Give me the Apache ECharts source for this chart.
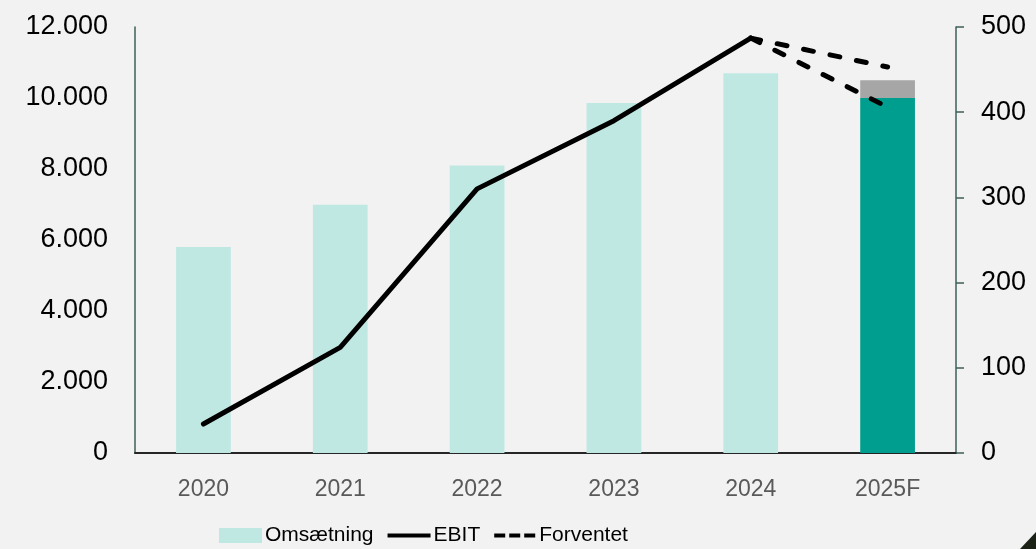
<!DOCTYPE html>
<html>
<head>
<meta charset="utf-8">
<script src="https://cdn.jsdelivr.net/npm/echarts@6/dist/echarts.min.js"></script>
<style>html,body{margin:0;padding:0;background:#f2f2f2;}#c{width:1036px;height:549px;}</style>
</head>
<body>
<div id="c"></div>
<script>
const categories = ['2020', '2021', '2022', '2023', '2024', '2025F'];
const omsaetning = [5800, 6990, 8100, 9860, 10700, 0];
const omsaetningForecast = [0, 0, 0, 0, 0, 10000];
const omsaetningRange = [0, 0, 0, 0, 0, 500];
const ebit = [34, 124, 310, 390, 487, null];
const forventetHigh = [null, null, null, null, 487, 453];
const forventetLow = [null, null, null, null, 487, 406];
const leftTicks = { min: 0, max: 12000, interval: 2000 };
const rightTicks = { min: 0, max: 500, interval: 100 };

const chart = echarts.init(document.getElementById('c'));
const fmt = v => String(v).replace(/\B(?=(\d{3})+(?!\d))/g, '.');
const axisCol = '#3f5f5a';
const dash = { width: 5, color: '#000', type: [10, 17], cap: 'round' };
const solidIcon = 'path://M0,0M0,15M0,5.5H45V9.5H0Z';
const dashIcon = 'path://M0,0M0,15M0,5.5H11V9.5H0ZM15,5.5H26V9.5H15ZM30,5.5H41V9.5H30Z';
chart.setOption({
  backgroundColor: '#f2f2f2',
  animation: false,
  grid: { left: 135, right: 80, top: 27, bottom: 96 },
  legend: {
    left: 214, top: 520,
    itemWidth: 43, itemHeight: 15, itemGap: 14,
    itemStyle: { borderWidth: 0 },
    lineStyle: { width: 0 },
    textStyle: { fontFamily: 'Liberation Sans, Arial', fontSize: 21, color: '#000', padding: [0, 0, 0, -2] },
    data: [
      { name: 'Omsætning', icon: 'rect' },
      { name: 'EBIT', icon: solidIcon },
      { name: 'Forventet', icon: dashIcon }
    ]
  },
  xAxis: {
    type: 'category', data: categories,
    axisLine: { lineStyle: { color: '#262626', width: 2 } },
    axisTick: { show: false },
    axisLabel: { margin: 25, color: '#595959', fontSize: 23, fontFamily: 'Liberation Sans, Arial' }
  },
  yAxis: [{
    type: 'value', min: leftTicks.min, max: leftTicks.max, interval: leftTicks.interval,
    splitLine: { show: false },
    axisLine: { show: true, lineStyle: { color: axisCol, width: 1.5 } },
    axisTick: { show: false },
    axisLabel: { margin: 27, color: '#000', fontSize: 27, fontFamily: 'Liberation Sans, Arial', formatter: fmt }
  }, {
    type: 'value', min: rightTicks.min, max: rightTicks.max, interval: rightTicks.interval,
    splitLine: { show: false },
    axisLine: { show: true, lineStyle: { color: axisCol, width: 1.5 } },
    axisTick: { show: true, length: 8, lineStyle: { color: axisCol, width: 1.5 } },
    axisLabel: { margin: 25, color: '#000', fontSize: 27, fontFamily: 'Liberation Sans, Arial' }
  }],
  series: [
    { name: 'Omsætning', type: 'bar', stack: 'o', data: omsaetning, barWidth: '40%', itemStyle: { color: '#c0e8e3' } },
    { name: 'Omsætning 2025F', type: 'bar', stack: 'o', data: omsaetningForecast, itemStyle: { color: '#009e8e' } },
    { name: 'Interval', type: 'bar', stack: 'o', data: omsaetningRange, itemStyle: { color: '#a6a6a6' } },
    { name: 'EBIT', type: 'line', yAxisIndex: 1, data: ebit, symbol: 'none', lineStyle: { width: 5, color: '#000', cap: 'round', join: 'round' }, itemStyle: { color: '#000' } },
    { name: 'Forventet', type: 'line', yAxisIndex: 1, data: forventetHigh, symbol: 'none', lineStyle: dash, itemStyle: { color: '#000' } },
    { name: 'Forventet', type: 'line', yAxisIndex: 1, data: forventetLow, symbol: 'none', lineStyle: dash, itemStyle: { color: '#000' } }
  ],
  graphic: [{
    type: 'polygon', silent: true,
    shape: { points: [[1020, 549], [1036, 532], [1036, 549]] },
    style: { fill: '#1c2116' }
  }]
});
</script>
</body>
</html>
